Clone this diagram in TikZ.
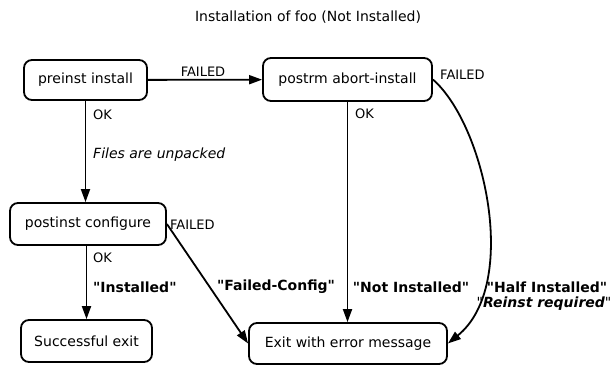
\documentclass[tikz,border=0pt]{standalone}
\usepackage{fontspec}
\setmainfont{DejaVu Sans}[Ligatures=TeXOff]
\usetikzlibrary{arrows.meta}
\begin{document}
\begin{tikzpicture}[x=1pt,y=-1pt,
  state/.style={draw, line width=1.8pt, rounded corners=8pt, inner sep=0pt, font=\fontsize{14}{16}\selectfont},
  arr/.style={line width=1.8pt, -{Triangle[length=13pt,width=9pt]}},
  lbl/.style={font=\fontsize{13}{15}\selectfont, inner sep=0pt, anchor=west},
  ilbl/.style={font=\fontsize{14}{16}\selectfont\itshape, inner sep=0pt, anchor=west},
  blbl/.style={font=\fontsize{14}{16}\selectfont\bfseries, inner sep=0pt}]
\useasboundingbox (0,0) rectangle (612,365);
\node[font=\fontsize{14}{16}\selectfont] (title) at (308,17) {Installation of foo (Not Installed)};

\node[state, minimum width=123pt, minimum height=40pt] (pre) at (85.5,80) {preinst install};
\node[state, minimum width=169pt, minimum height=43pt] (rm) at (347.5,79.5) {postrm abort-install};
\node[state, minimum width=156pt, minimum height=42pt] (cfg) at (88,224) {postinst configure};
\node[state, minimum width=131pt, minimum height=42pt] (ok) at (86.5,341) {Successful exit};
\node[state, minimum width=198pt, minimum height=41pt] (err) at (348,343.5) {Exit with error message};

\draw[arr] (pre) -- (rm);
\draw[arr] (pre.south) -- (pre.south |- cfg.north);
\draw[arr] (ok.north |- cfg.south) -- (ok.north);
\draw[arr] (rm.south) -- (rm.south |- err.north);
\draw[arr] (cfg.east) -- (err.west);
\draw[arr] (rm.east) .. controls (485,125) and (520,285) .. (err.east);

\node[lbl, anchor=center] (f1) at (203,72) {FAILED};
\node[lbl] (ok1) at (93,115) {OK};
\node[ilbl] (unp) at (93,155) {Files are unpacked};
\node[lbl] (ok2) at (355,114) {OK};
\node[lbl] (f2) at (440,75) {FAILED};
\node[lbl] (f3) at (170,225) {FAILED};
\node[lbl] (ok3) at (93,258) {OK};
\node[blbl, anchor=west] (inst) at (93,287) {"Installed"};
\node[blbl] (fc) at (276,287) {"Failed-Config"};
\node[blbl] (ni) at (411,287) {"Not Installed"};
\node[blbl] (hi) at (547,287) {"Half Installed"};
\node[font=\fontsize{14}{16}\selectfont, inner sep=0pt] (rr) at (544,304) {"{\bfseries\itshape Reinst required}"};
\end{tikzpicture}
\end{document}
